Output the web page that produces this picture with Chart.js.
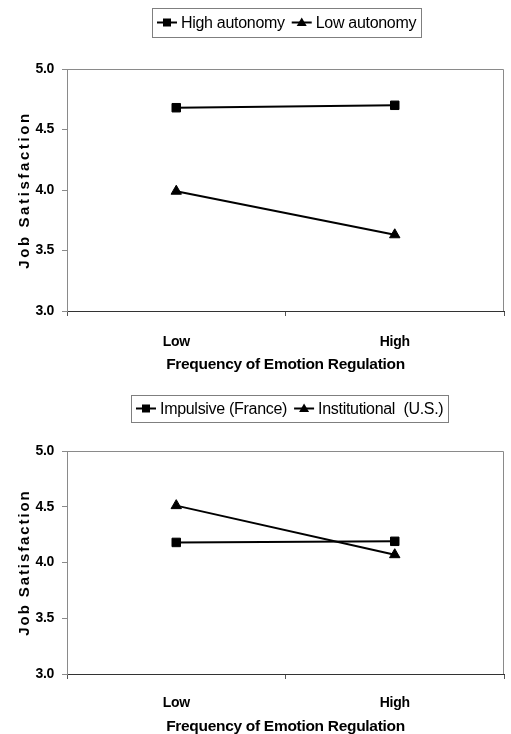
<!DOCTYPE html>
<html>
<head>
<meta charset="utf-8">
<script src="https://cdn.jsdelivr.net/npm/chart.js"></script>
<style>
  body { margin: 0; background: #fff; }
  canvas { position: absolute; left: 0; }
  #chartTop { top: 0; }
  #chartBottom { top: 375px; }
</style>
</head>
<body>
<canvas id="chartTop" width="511" height="375"></canvas>
<canvas id="chartBottom" width="511" height="359"></canvas>
<script>
const categories = ["Low", "High"];
const highAutonomy = [4.68, 4.70];
const lowAutonomy = [3.99, 3.63];
const impulsiveFrance = [4.18, 4.19];
const institutionalUS = [4.51, 4.07];
const yTickValues = [3.0, 3.5, 4.0, 4.5, 5.0];
const xTitle = "Frequency of Emotion Regulation";
const yTitle = "Job Satisfaction";

const face = "'Liberation Sans', Arial, sans-serif";
Chart.defaults.font.family = face;
Chart.defaults.color = "#000";

// legend drawn as a framed row: line + marker, then label
const boxLegend = {
    id: "boxLegend",
    afterDraw(chart, args, opts) {
        const ctx = chart.ctx;
        const area = chart.chartArea;
        ctx.save();
        ctx.font = opts.font;
        ctx.letterSpacing = opts.tracking + "px";
        const items = chart.data.datasets.map(ds => ({
            text: ds.label,
            style: ds.pointStyle,
            w: ctx.measureText(ds.label).width
        }));
        let total = opts.padding * 2 + opts.itemGap * (items.length - 1);
        items.forEach(it => { total += opts.symbolWidth + opts.symbolGap + it.w; });
        let x = Math.round((area.left + area.right) / 2 + opts.shift - total / 2);
        const cy = opts.top + opts.height / 2;
        ctx.strokeStyle = "#7f7f7f";
        ctx.lineWidth = 1;
        ctx.strokeRect(x + 0.5, opts.top + 0.5, Math.round(total), opts.height);
        x += opts.padding;
        ctx.fillStyle = "#000";
        ctx.strokeStyle = "#000";
        ctx.textBaseline = "middle";
        items.forEach(it => {
            ctx.lineWidth = 2;
            ctx.beginPath();
            ctx.moveTo(x, cy);
            ctx.lineTo(x + opts.symbolWidth, cy);
            ctx.stroke();
            const mx = x + opts.symbolWidth / 2;
            ctx.beginPath();
            if (it.style === "triangle") {
                ctx.moveTo(mx, cy - 5);
                ctx.lineTo(mx + 5, cy + 3.5);
                ctx.lineTo(mx - 5, cy + 3.5);
                ctx.closePath();
            } else {
                ctx.rect(mx - 4, cy - 4, 8, 8);
            }
            ctx.fill();
            x += opts.symbolWidth + opts.symbolGap;
            ctx.fillText(it.text, x, cy + 1);
            x += it.w + opts.itemGap;
        });
        ctx.restore();
    }
};

// gray top/right frame of the plot
const plotFrame = {
    id: "plotFrame",
    afterDatasetsDraw(chart) {
        const { ctx, chartArea: a } = chart;
        ctx.save();
        ctx.strokeStyle = "#8a8a8a";
        ctx.lineWidth = 1;
        ctx.beginPath();
        ctx.moveTo(a.left, a.top + 0.5);
        ctx.lineTo(a.right - 0.5, a.top + 0.5);
        ctx.lineTo(a.right - 0.5, a.bottom);
        ctx.stroke();
        ctx.restore();
    }
};

// tighter tracking overall (narrow look), wide tracking on the y title
const tracking = {
    id: "tracking",
    beforeLayout(chart, args, opts) {
        chart.ctx.letterSpacing = opts.base + "px";
    },
    beforeDraw(chart, args, opts) {
        chart.ctx.letterSpacing = opts.base + "px";
        const y = chart.scales.y;
        if (y && !y._spaced) {
            const orig = y.drawTitle;
            y.drawTitle = function () {
                this.ctx.save();
                this.ctx.letterSpacing = opts.title + "px";
                orig.apply(this, arguments);
                this.ctx.restore();
            };
            y._spaced = true;
        }
    }
};

const makeChart = (id, series, g) => {
    const ctx = document.getElementById(id).getContext("2d");
    return new Chart(ctx, {
        type: "line",
        data: {
            labels: categories,
            datasets: series.map(s => ({
                label: s.label,
                data: s.data,
                borderColor: "#000",
                borderWidth: 2,
                pointStyle: s.style,
                pointRadius: 6,
                pointBackgroundColor: "#000",
                pointBorderColor: "#000",
                pointBorderWidth: 1,
                fill: false,
                tension: 0
            }))
        },
        options: {
            responsive: false,
            animation: false,
            layout: { padding: { top: g.top, right: g.right, bottom: 0, left: 0 } },
            plugins: {
                legend: { display: false },
                tooltip: { enabled: false },
                boxLegend: {
                    font: "16px " + face,
                    tracking: -0.3,
                    top: g.legendTop,
                    height: g.legendHeight,
                    shift: g.legendShift,
                    padding: 5,
                    symbolWidth: 20,
                    symbolGap: 4,
                    itemGap: 7
                },
                tracking: { base: -0.3, title: g.spacing }
            },
            scales: {
                x: {
                    offset: true,
                    afterFit: s => { s.height = g.xHeight; },
                    border: { color: "#333", width: 1 },
                    grid: { offset: true, drawOnChartArea: false, tickLength: 5, color: "#555" },
                    ticks: { padding: g.tickPad, font: { size: 14, weight: "bold" }, maxRotation: 0 },
                    title: {
                        display: true,
                        text: xTitle,
                        font: { size: 15.5, weight: "bold", lineHeight: 1 },
                        padding: { top: 0, bottom: g.titlePad }
                    }
                },
                y: {
                    min: 3,
                    max: 5,
                    afterFit: s => { s.width = 67; },
                    afterBuildTicks: s => { s.ticks = yTickValues.map(v => ({ value: v })); },
                    border: { color: "#8a8a8a", width: 1 },
                    grid: { drawOnChartArea: false, tickLength: 5, color: "#8a8a8a" },
                    ticks: {
                        padding: 8,
                        font: { size: 14, weight: "bold" },
                        callback: v => Number(v).toFixed(1)
                    },
                    title: {
                        display: true,
                        text: yTitle,
                        font: { size: 15, weight: "bold" },
                        padding: { top: 16, bottom: 0 }
                    }
                }
            }
        },
        plugins: [boxLegend, plotFrame, tracking]
    });
};

makeChart("chartTop", [
    { label: "High autonomy", data: highAutonomy, style: "rect" },
    { label: "Low autonomy", data: lowAutonomy, style: "triangle" }
], { top: 69, right: 6, xHeight: 64, tickPad: 18, titlePad: 2.5, spacing: 2.6, legendTop: 8, legendHeight: 29, legendShift: 1 });

makeChart("chartBottom", [
    { label: "Impulsive (France)", data: impulsiveFrance, style: "rect" },
    { label: "Institutional  (U.S.)", data: institutionalUS, style: "triangle" }
], { top: 76, right: 1, xHeight: 60, tickPad: 16, titlePad: 0, spacing: 1.9, legendTop: 20, legendHeight: 27, legendShift: 4 });
</script>
</body>
</html>
